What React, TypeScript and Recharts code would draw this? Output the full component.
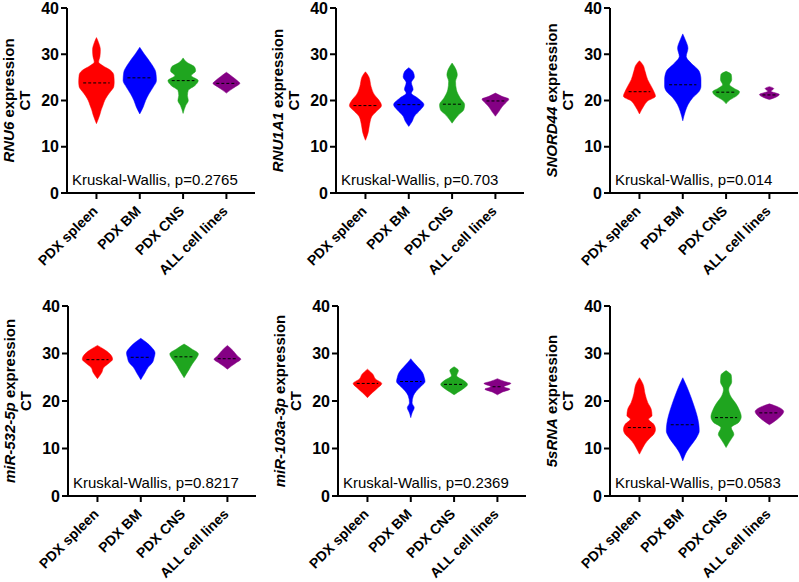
import React from "react";
import { Area, ComposedChart, ReferenceLine, XAxis, YAxis } from "recharts";

type Pt = [number, number];

const groups = ["PDX spleen", "PDX BM", "PDX CNS", "ALL cell lines"];
const groupColors = ["#FF0000", "#0000FF", "#1FA51F", "#840084"];
const yTicks = [0, 10, 20, 30, 40];

const genes = ["RNU6", "RNU1A1", "SNORD44", "miR-532-5p", "miR-103a-3p", "5sRNA"];
const pValues = ["0.2765", "0.703", "0.014", "0.8217", "0.2369", "0.0583"];

// violin outlines, [CT, half width in category units], bottom to top
const rnu6Spleen: Pt[] = [[15, 0], [17, 0.08], [18, 0.11], [19, 0.15], [20, 0.19], [21, 0.25], [22, 0.33], [23, 0.4], [24, 0.41], [25.5, 0.4], [26.5, 0.33], [27.5, 0.15], [28.3, 0.05], [29.5, 0.08], [31, 0.09], [32.5, 0.05], [33.6, 0]];
const rnu6Bm: Pt[] = [[17.1, 0], [18.6, 0.08], [20, 0.135], [21.4, 0.21], [22.9, 0.31], [24.3, 0.385], [26.1, 0.37], [27.9, 0.27], [30.1, 0.1], [31.5, 0]];
const rnu6Cns: Pt[] = [[17.2, 0], [18.9, 0.06], [20, 0.12], [21.1, 0.1], [22.2, 0.12], [23.2, 0.27], [24.3, 0.35], [25.4, 0.19], [26.4, 0.29], [27.2, 0.27], [28.3, 0.08], [29.2, 0]];
const rnu6Cell: Pt[] = [[21.6, 0], [22.3, 0.1], [23, 0.21], [23.7, 0.31], [24.3, 0.25], [25.2, 0.13], [26.1, 0]];
const rnu6Medians = [23.8, 24.9, 24.3, 23.7];

const rnu1a1Spleen: Pt[] = [[11.4, 0], [13, 0.06], [15.1, 0.1], [16.6, 0.15], [17.6, 0.25], [18.9, 0.37], [20.1, 0.31], [21.2, 0.21], [23, 0.13], [25.1, 0.08], [26.2, 0]];
const rnu1a1Bm: Pt[] = [[14.4, 0], [15.5, 0.08], [16.6, 0.13], [18, 0.27], [19.1, 0.35], [20.5, 0.21], [21.6, 0.06], [22.4, 0.1], [23.9, 0.06], [25.1, 0.13], [26.2, 0.1], [27.1, 0]];
const rnu1a1Cns: Pt[] = [[15.1, 0], [16.9, 0.15], [18, 0.27], [19.1, 0.29], [20.5, 0.19], [22.3, 0.1], [24.1, 0.08], [25.5, 0.12], [26.9, 0.08], [28.1, 0]];
const rnu1a1Cell: Pt[] = [[16.6, 0], [17.6, 0.08], [18.6, 0.15], [19.4, 0.23], [20.3, 0.31], [20.9, 0.15], [21.6, 0]];
const rnu1a1Medians = [18.9, 19.1, 19.2, 19.9];

const snord44Spleen: Pt[] = [[17.1, 0], [18.8, 0.1], [19.9, 0.19], [20.9, 0.37], [22, 0.33], [23.1, 0.27], [24.5, 0.19], [26.3, 0.13], [27.7, 0.08], [28.6, 0]];
const snord44Bm: Pt[] = [[15.6, 0], [17.7, 0.06], [19.1, 0.12], [20.6, 0.23], [22, 0.38], [23.1, 0.42], [24.5, 0.42], [26.3, 0.38], [28.1, 0.19], [29.5, 0.08], [31.3, 0.12], [33.1, 0.06], [34.4, 0]];
const snord44Cns: Pt[] = [[19.3, 0], [20.2, 0.1], [20.9, 0.23], [21.9, 0.31], [22.6, 0.19], [23.4, 0.08], [24.5, 0.13], [25.6, 0.12], [26.3, 0]];
const snord44Cell: Pt[] = [[20.2, 0], [20.6, 0.12], [21.3, 0.23], [22, 0.04], [22.6, 0.1], [23, 0]];
const snord44Medians = [21.9, 23.4, 21.8, 21.2];

const mir532Spleen: Pt[] = [[24.7, 0], [26, 0.1], [27.1, 0.15], [28, 0.27], [28.8, 0.35], [29.9, 0.29], [31, 0.13], [31.7, 0]];
const mir532Bm: Pt[] = [[24.5, 0], [26, 0.1], [27.1, 0.17], [28.1, 0.27], [29.2, 0.31], [30.1, 0.33], [31.3, 0.25], [32.4, 0.12], [33.2, 0]];
const mir532Cns: Pt[] = [[24.9, 0], [26.7, 0.12], [27.8, 0.19], [28.8, 0.27], [29.9, 0.33], [31, 0.17], [32, 0]];
const mir532Cell: Pt[] = [[26.7, 0], [27.4, 0.1], [28.1, 0.21], [28.8, 0.31], [29.5, 0.23], [30.6, 0.13], [31.7, 0]];
const mir532Medians = [28.7, 29.2, 29.3, 28.9];

const mir103Spleen: Pt[] = [[20.7, 0], [21.8, 0.12], [22.7, 0.23], [23.7, 0.33], [24.6, 0.19], [25.7, 0.12], [26.7, 0]];
const mir103Bm: Pt[] = [[16.5, 0], [17.5, 0.03], [18.6, 0.08], [19.6, 0.03], [21.1, 0.06], [22.1, 0.13], [23.2, 0.25], [24.1, 0.33], [25, 0.31], [26, 0.27], [27.1, 0.17], [28.2, 0.06], [28.9, 0]];
const mir103Cns: Pt[] = [[21.3, 0], [21.8, 0.08], [22.7, 0.23], [23.5, 0.31], [24.4, 0.21], [25.3, 0.06], [26.4, 0.1], [27.2, 0]];
const mir103Cell: Pt[] = [[21.3, 0], [21.9, 0.12], [22.5, 0.29], [23, 0.15], [23.7, 0.31], [24.1, 0.17], [24.7, 0]];
const mir103Medians = [23.7, 24.1, 23.5, 23.0];

const s5Spleen: Pt[] = [[8.8, 0], [10.2, 0.08], [11, 0.13], [12, 0.22], [13, 0.33], [14, 0.37], [15.1, 0.33], [16.2, 0.21], [16.9, 0.29], [18.3, 0.27], [19.7, 0.19], [21.5, 0.13], [23.6, 0.08], [24.9, 0]];
const s5Bm: Pt[] = [[7.4, 0], [9.5, 0.1], [10.9, 0.21], [12.5, 0.33], [13.7, 0.38], [15.1, 0.37], [16.9, 0.33], [18.7, 0.27], [20.8, 0.19], [22.9, 0.1], [24.9, 0]];
const s5Cns: Pt[] = [[10.2, 0], [11, 0.05], [12, 0.12], [13, 0.18], [14.4, 0.12], [15.5, 0.29], [16.7, 0.35], [18, 0.31], [19.4, 0.23], [21.1, 0.1], [22.5, 0.06], [24, 0.13], [25.4, 0.12], [26.4, 0]];
const s5Cell: Pt[] = [[15, 0], [15.8, 0.13], [16.9, 0.27], [17.8, 0.33], [18.7, 0.21], [19.4, 0]];
const s5Medians = [14.4, 15.0, 16.5, 17.5];

const panelViolins = [
  [rnu6Spleen, rnu6Bm, rnu6Cns, rnu6Cell],
  [rnu1a1Spleen, rnu1a1Bm, rnu1a1Cns, rnu1a1Cell],
  [snord44Spleen, snord44Bm, snord44Cns, snord44Cell],
  [mir532Spleen, mir532Bm, mir532Cns, mir532Cell],
  [mir103Spleen, mir103Bm, mir103Cns, mir103Cell],
  [s5Spleen, s5Bm, s5Cns, s5Cell],
];
const panelMedians = [rnu6Medians, rnu1a1Medians, snord44Medians, mir532Medians, mir103Medians, s5Medians];

// layout
const FONT = '"Liberation Sans", Arial, Helvetica, sans-serif';
const panelLeft = [0, 266, 533, 0, 266, 533];
const panelTop = [0, 0, 0, 296, 296, 296];
const marginTop = [8, 8, 8, 10, 10, 10];
const axisWidth = [67, 70, 77, 68, 72, 77];
const plotHeight = [185, 185, 185, 190, 190, 190];
const xAxisHeight = [92, 92, 92, 86, 86, 86];
const PLOT_W = 188;

const halfWidthAt = (pts: Pt[], ct: number) => {
  for (let i = 1; i < pts.length; i++) {
    const [c0, w0] = pts[i - 1];
    const [c1, w1] = pts[i];
    if (ct >= c0 && ct <= c1) return w0 + ((ct - c0) / (c1 - c0)) * (w1 - w0);
  }
  return 0;
};

const XTick = (props: any) => {
  const { x, y, payload } = props;
  const ax = x + 2;
  const ay = y + 11;
  return (
    <text
      x={ax}
      y={ay}
      transform={`rotate(-45, ${ax}, ${ay})`}
      textAnchor="end"
      fontFamily={FONT}
      fontSize={14}
      fontWeight={700}
      fill="#000"
    >
      {groups[payload.value - 1]}
    </text>
  );
};

const YLabel = ({ viewBox, gene }: any) => {
  const { x, y, width, height } = viewBox;
  const ax = x + width;
  const cy = y + height / 2;
  const style = { fontFamily: FONT, fontSize: 15, fontWeight: 700, fill: "#000" };
  return (
    <g>
      <text transform={`translate(${ax - 53.5}, ${cy}) rotate(-90)`} textAnchor="middle" style={style}>
        <tspan fontStyle="italic">{gene}</tspan> expression
      </text>
      <text transform={`translate(${ax - 37.5}, ${cy}) rotate(-90)`} textAnchor="middle" style={style}>
        CT
      </text>
    </g>
  );
};

const KwLabel = ({ viewBox, p }: any) => (
  <text x={viewBox.x + 5} y={viewBox.y - 8} fontFamily={FONT} fontSize={15} fill="#000">
    {`Kruskal-Wallis, p=${p}`}
  </text>
);

const ViolinPanel = ({ idx }: { idx: number }) => {
  const violins = panelViolins[idx];
  const medians = panelMedians[idx];
  const aw = axisWidth[idx];
  return (
    <div style={{ position: "absolute", left: panelLeft[idx], top: panelTop[idx] }}>
      <ComposedChart
        layout="vertical"
        width={aw + PLOT_W + 4}
        height={marginTop[idx] + plotHeight[idx] + xAxisHeight[idx]}
        margin={{ top: marginTop[idx], right: 4, bottom: 0, left: 0 }}
        style={{ overflow: "visible" }}
      >
        <XAxis
          type="number"
          domain={[0.32, 4.66]}
          ticks={[1, 2, 3, 4]}
          allowDataOverflow
          interval={0}
          height={xAxisHeight[idx]}
          tick={<XTick />}
          tickSize={6}
          axisLine={{ stroke: "#000", strokeWidth: 2 }}
          tickLine={{ stroke: "#000", strokeWidth: 2 }}
          label={(props: any) => <KwLabel {...props} p={pValues[idx]} />}
        />
        <YAxis
          type="number"
          dataKey="ct"
          domain={[0, 40]}
          ticks={yTicks}
          reversed
          allowDataOverflow
          interval={0}
          width={aw}
          tickSize={6}
          axisLine={{ stroke: "#000", strokeWidth: 2 }}
          tickLine={{ stroke: "#000", strokeWidth: 2 }}
          tick={{ fill: "#000", fontSize: 16, fontWeight: 700, fontFamily: FONT }}
          label={(props: any) => <YLabel {...props} gene={genes[idx]} />}
        />
        {violins.map((pts, g) => (
          <Area
            key={groups[g]}
            data={pts.map(([ct, hw]) => ({ ct, range: [g + 1 - hw, g + 1 + hw] }))}
            dataKey="range"
            type="monotone"
            fill={groupColors[g]}
            fillOpacity={1}
            stroke={groupColors[g]}
            strokeWidth={0.5}
            dot={false}
            activeDot={false}
            isAnimationActive={false}
          />
        ))}
        {medians.map((m, g) => {
          const hw = halfWidthAt(violins[g], m) * 0.75;
          return (
            <ReferenceLine
              key={`med-${g}`}
              segment={[
                { x: g + 1 - hw, y: m },
                { x: g + 1 + hw, y: m },
              ]}
              stroke="#000"
              strokeWidth={1}
              strokeDasharray="3 2"
              ifOverflow="visible"
            />
          );
        })}
      </ComposedChart>
    </div>
  );
};

export default function App() {
  return (
    <div
      style={{
        position: "absolute",
        left: 0,
        top: 0,
        width: 799,
        height: 582,
        background: "#fff",
        overflow: "hidden",
      }}
    >
      {genes.map((g, i) => (
        <ViolinPanel key={g} idx={i} />
      ))}
    </div>
  );
}
